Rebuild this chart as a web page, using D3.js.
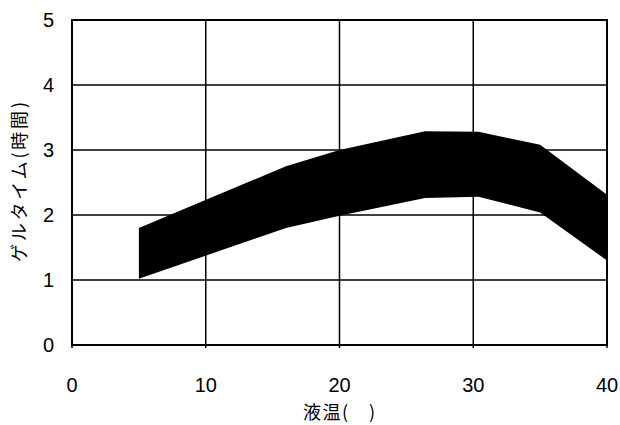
<!DOCTYPE html>
<html><head><meta charset="utf-8">
<script src="https://cdn.jsdelivr.net/npm/d3@7"></script>
<style>body{margin:0;background:#fff}</style>
</head><body>
<svg id="c" width="620" height="425"></svg>
<script>
const temps = [5, 16, 20, 26.4, 30.4, 35, 40];
const upperHours = [1.80, 2.75, 3.0, 3.29, 3.28, 3.08, 2.31];
const lowerHours = [1.02, 1.80, 1.99, 2.26, 2.28, 2.04, 1.30];
const xTicks = [0, 10, 20, 30, 40];
const yTicks = [0, 1, 2, 3, 4, 5];
const xTitle = "液温(　)";
const yTitle = "ゲルタイム(時間)";

const svg = d3.select("#c");
const L = 72, R = 607, T = 20, B = 345;
const x = d3.scaleLinear().domain([0, 40]).range([L, R]);
const y = d3.scaleLinear().domain([0, 5]).range([B, T]);
const font = "'Liberation Sans', Arial, sans-serif";
const cjk = "'Noto Sans CJK JP', sans-serif";

// grid
svg.append("g").selectAll("line").data(xTicks).join("line")
  .attr("x1", d => x(d)).attr("x2", d => x(d)).attr("y1", T).attr("y2", B + 3)
  .attr("stroke", "#000").attr("stroke-width", 1.5);
svg.append("g").selectAll("line").data(yTicks).join("line")
  .attr("x1", L).attr("x2", R).attr("y1", d => y(d)).attr("y2", d => y(d))
  .attr("stroke", "#000").attr("stroke-width", 1.5);

// band
const band = temps.map((t, i) => ({t, u: upperHours[i], l: lowerHours[i]}));
svg.append("path").datum(band)
  .attr("d", d3.area().x(d => x(d.t)).y0(d => y(d.l)).y1(d => y(d.u)))
  .attr("fill", "#000");

// frame
svg.append("rect").attr("x", L).attr("y", T).attr("width", R - L).attr("height", B - T)
  .attr("fill", "none").attr("stroke", "#000").attr("stroke-width", 2);

// tick labels
svg.append("g").selectAll("text").data(xTicks).join("text")
  .attr("x", d => x(d)).attr("y", 392).attr("text-anchor", "middle")
  .attr("font-family", font).attr("font-size", 20).text(d => d);
svg.append("g").selectAll("text").data(yTicks).join("text")
  .attr("x", 54).attr("y", d => y(d) + 7).attr("text-anchor", "end")
  .attr("font-family", font).attr("font-size", 20).text(d => d);

// titles
svg.append("text").attr("x", 303).attr("y", 419).attr("text-anchor", "start")
  .attr("textLength", 72).attr("lengthAdjust", "spacing")
  .attr("font-family", cjk).attr("font-size", 18).text(xTitle);
svg.append("text").attr("transform", "translate(26,262) rotate(-90)").attr("text-anchor", "start")
  .attr("textLength", 160).attr("lengthAdjust", "spacing")
  .attr("font-family", cjk).attr("font-size", 18).text(yTitle);
</script>
</body></html>
